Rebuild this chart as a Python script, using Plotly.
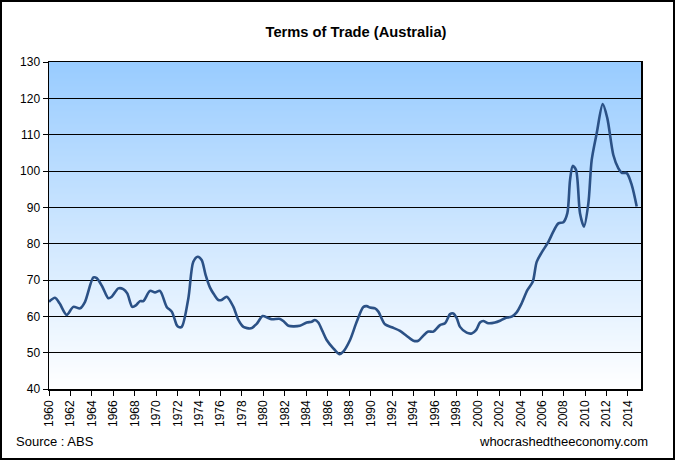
import plotly.graph_objects as go
import zlib, struct, base64

# Terms of trade index (Australia)
years = [1960.0, 1960.56, 1961.0, 1961.65, 1962.27, 1962.9, 1963.36, 1964.14, 1964.45,
         1965.0, 1965.53, 1965.85, 1966.47, 1966.93, 1967.3, 1967.77, 1968.1, 1968.49, 1968.8,
         1969.42, 1969.89, 1970.35, 1970.98, 1971.45, 1971.91, 1972.07, 1972.38, 1973.0,
         1973.46, 1973.87, 1974.24, 1974.6, 1975.02, 1975.4, 1975.8, 1976.1, 1976.58, 1977.2,
         1977.66, 1978.13, 1978.84, 1979.37, 1979.93, 1980.4, 1980.77, 1981.55, 1981.86,
         1982.33, 1983.4, 1984.04, 1984.5, 1984.8, 1985.12, 1985.5, 1985.9, 1986.52, 1987.08,
         1987.45, 1988.08, 1988.7, 1989.32, 1989.64, 1989.94, 1990.41, 1990.72, 1991.34,
         1991.97, 1992.74, 1993.37, 1993.99, 1994.45, 1994.92, 1995.38, 1995.85, 1996.47,
         1996.94, 1997.41, 1997.71, 1998.03, 1998.34, 1998.96, 1999.43, 1999.83, 2000.2,
         2000.51, 2000.98, 2001.6, 2002.07, 2002.54, 2003.16, 2003.62, 2004.09, 2004.62,
         2005.12, 2005.49, 2005.96, 2006.58, 2007.04, 2007.51, 2007.98, 2008.35, 2008.6,
         2008.85, 2009.16, 2009.53, 2009.9, 2010.31, 2010.62, 2011.09, 2011.65, 2012.08,
         2012.64, 2013.11, 2013.42, 2013.89, 2014.36, 2014.82]
tot = [64.0, 65.1, 63.5, 60.4, 62.6, 62.2, 64.0, 70.7, 70.5,
       68.0, 65.0, 65.4, 67.7, 67.5, 66.3, 62.6, 63.0, 64.2, 64.2,
       67.0, 66.6, 67.0, 62.6, 61.3, 57.6, 57.1, 57.1, 65.0,
       75.0, 76.4, 75.5, 71.5, 67.9, 66.0, 64.5, 64.5, 65.4, 62.6,
       59.0, 57.1, 56.7, 57.9, 60.1, 59.6, 59.2, 59.3, 58.7,
       57.4, 57.4, 58.3, 58.5, 59.0, 58.3, 56.0, 53.5, 51.2, 49.6,
       50.3, 53.5, 58.5, 62.6, 62.8, 62.4, 62.2, 61.3, 57.8,
       57.0, 56.0, 54.6, 53.3, 53.3, 54.7, 55.8, 55.8, 57.6,
       58.1, 60.6, 60.8, 59.5, 57.1, 55.5, 55.3, 56.2, 58.3,
       58.7, 58.1, 58.3, 58.8, 59.5, 59.9, 61.1, 63.6, 67.2,
       69.5, 75.0, 77.6, 80.5, 83.3, 85.6, 85.9, 88.4, 97.5,
       101.4, 100.3, 88.4, 84.7, 91.1, 103.0, 110.4, 118.4, 114.5,
       104.4, 100.7, 99.5, 99.4, 96.1, 90.2]

y_ticks = [40, 50, 60, 70, 80, 90, 100, 110, 120, 130]
x_ticks = list(range(1960, 2015, 2))
x_tick_labels = [str(y) for y in x_ticks]

X0, X1 = 1960, 2015.22
Y0, Y1 = 40, 130


def gradient_png(top=(0x99, 0xCC, 0xFF), bottom=(0xFF, 0xFF, 0xFF), h=256):
    rows = b""
    for i in range(h):
        t = i / (h - 1)
        c = bytes(int(round(top[k] + (bottom[k] - top[k]) * t)) for k in range(3))
        rows += b"\x00" + c
    def chunk(tag, data):
        return struct.pack(">I", len(data)) + tag + data + struct.pack(">I", zlib.crc32(tag + data) & 0xffffffff)
    png = b"\x89PNG\r\n\x1a\n" + chunk(b"IHDR", struct.pack(">IIBBBBB", 1, h, 8, 2, 0, 0, 0))
    png += chunk(b"IDAT", zlib.compress(rows)) + chunk(b"IEND", b"")
    return "data:image/png;base64," + base64.b64encode(png).decode()


fig = go.Figure()
fig.add_trace(go.Scatter(
    x=years, y=tot, mode="lines",
    line=dict(color="#2B5186", width=2.6, shape="spline", smoothing=0.8),
    hoverinfo="skip"))

axis_font = dict(family="Liberation Sans, Arial, sans-serif", size=12, color="#000000")

fig.update_layout(
    width=675, height=460,
    margin=dict(l=49, r=34, t=62, b=71, autoexpand=False),
    paper_bgcolor="white", plot_bgcolor="rgba(0,0,0,0)",
    showlegend=False,
    title=dict(text="<b>Terms of Trade (Australia)</b>", x=356 / 675, xref="container",
               y=1 - 32 / 460, yref="container", xanchor="center", yanchor="middle",
               font=dict(family="Liberation Sans, Arial, sans-serif", size=14.7, color="#000000")),
    xaxis=dict(range=[X0, X1], tickmode="array", tickvals=x_ticks, ticktext=x_tick_labels,
               tickangle=-90, ticks="outside", ticklen=5, tickcolor="black", tickwidth=1,
               showline=True, linecolor="black", linewidth=1.5, mirror=True,
               showgrid=False, zeroline=False, tickfont=axis_font, automargin=False),
    yaxis=dict(range=[Y0, Y1], tickmode="array", tickvals=y_ticks,
               ticks="outside", ticklen=5, tickcolor="black", tickwidth=1,
               showline=True, linecolor="black", linewidth=1.5, mirror=True,
               showgrid=True, gridcolor="black", gridwidth=1, zeroline=False,
               tickfont=axis_font, automargin=False),
    images=[dict(source=gradient_png(), xref="paper", yref="paper", x=0, y=1,
                 sizex=1, sizey=1, sizing="stretch", xanchor="left", yanchor="top",
                 layer="below")],
)

fig.add_annotation(text="Source : ABS", xref="paper", yref="paper",
                   x=-35 / 592, y=-52 / 327, xanchor="left", yanchor="middle",
                   showarrow=False, font=dict(family="Liberation Sans, Arial, sans-serif", size=13, color="#000000"))
fig.add_annotation(text="whocrashedtheeconomy.com", xref="paper", yref="paper",
                   x=(650 - 49) / 592, y=-52 / 327, xanchor="right", yanchor="middle",
                   showarrow=False, font=dict(family="Liberation Sans, Arial, sans-serif", size=13, color="#000000"))

# outer border
fig.add_shape(type="rect", xref="paper", yref="paper",
              x0=-48 / 592, x1=(674 - 49) / 592, y0=-70 / 327, y1=61 / 327 + 1,
              line=dict(color="black", width=2), fillcolor="rgba(0,0,0,0)")

fig.write_html("out.html", config={"displayModeBar": False, "staticPlot": True},
               post_script="document.body.style.margin='0';document.body.style.overflow='hidden';")
